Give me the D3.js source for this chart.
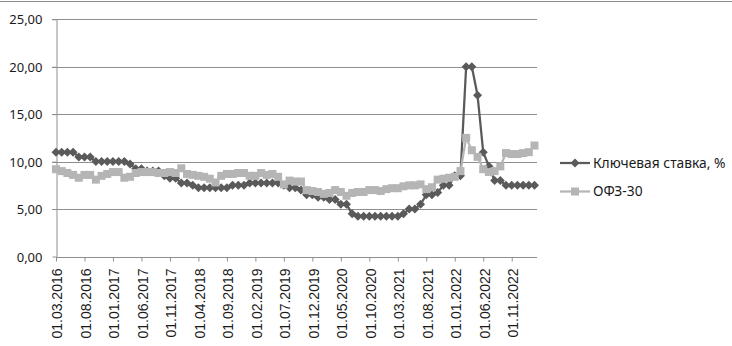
<!DOCTYPE html>
<html>
<head>
<meta charset="utf-8">
<script src="https://cdn.jsdelivr.net/npm/d3@7/dist/d3.min.js"></script>
<style>
  body { margin: 0; background: #fff; }
  .ylab { font-family: "Noto Sans", sans-serif; font-size: 13px; fill: #1a1a1a; }
  .xlab { font-family: "Liberation Sans", Arial, sans-serif; font-size: 14px; fill: #1a1a1a; }
  .leg { font-family: "Noto Sans", sans-serif; font-size: 13.8px; fill: #1a1a1a; }
</style>
</head>
<body>
<div id="chart"></div>
<script>
    // monthly points, 01.03.2016 .. 01.03.2023
    var startYear = 2016, startMonth = 3, monthCount = 85;
    var months = [];
    for (var i = 0; i < monthCount; i++) {
        var m = (startMonth - 1 + i) % 12 + 1;
        var y = startYear + Math.floor((startMonth - 1 + i) / 12);
        months.push("01." + (m < 10 ? "0" + m : m) + "." + y);
    }

    var keyRate = [
        11, 11, 11, 11, 10.5, 10.5, 10.5, 10, 10, 10,
        10, 10, 10, 9.75, 9.25, 9.25, 9, 9, 9, 8.5,
        8.25, 8.25, 7.75, 7.75, 7.5, 7.25, 7.25, 7.25, 7.25, 7.25,
        7.25, 7.5, 7.5, 7.5, 7.75, 7.75, 7.75, 7.75, 7.75, 7.75,
        7.5, 7.25, 7.25, 7, 6.5, 6.5, 6.25, 6.25, 6, 6,
        5.5, 5.5, 4.5, 4.25, 4.25, 4.25, 4.25, 4.25, 4.25, 4.25,
        4.25, 4.5, 5, 5, 5.5, 6.5, 6.5, 6.75, 7.5, 7.5,
        8.5, 8.5, 20, 20, 17, 11, 9.5, 8, 8, 7.5,
        7.5, 7.5, 7.5, 7.5, 7.5
    ];

    var ofz30 = [
        9.2, 9.0, 8.8, 8.6, 8.3, 8.6, 8.6, 8.1, 8.5, 8.7,
        8.9, 8.9, 8.3, 8.4, 8.8, 8.9, 8.9, 8.9, 8.8, 8.8,
        8.9, 8.8, 9.3, 8.7, 8.6, 8.5, 8.4, 8.2, 7.8, 8.5,
        8.7, 8.7, 8.8, 8.8, 8.5, 8.5, 8.8, 8.6, 8.7, 8.4,
        7.6, 8.0, 7.9, 7.9, 7.0, 6.9, 6.8, 6.6, 6.7, 7.0,
        6.8, 6.4, 6.7, 6.8, 6.8, 7.0, 7.0, 6.9, 7.1, 7.2,
        7.2, 7.4, 7.5, 7.5, 7.6, 7.1, 7.3, 8.1, 8.2, 8.3,
        8.4, 9.0, 12.5, 11.2, 10.5, 9.2, 8.9, 9.0, 9.5, 10.9,
        10.8, 10.8, 10.9, 11.0, 11.7
    ];

    var yTicks = [0, 5, 10, 15, 20, 25];
    var seriesNames = ["Ключевая ставка, %", "ОФЗ-30"];

    var W = 732, H = 346;
    var margin = { top: 19, right: 196, bottom: 90, left: 56 };

    var svg = d3.select("#chart").append("svg")
        .attr("width", W)
        .attr("height", H);

    // chart frame top edge
    svg.append("line")
        .attr("x1", 0).attr("x2", W)
        .attr("y1", 1.5).attr("y2", 1.5)
        .attr("stroke", "#8c8c8c").attr("stroke-width", 1);

    var x = d3.scalePoint()
        .domain(months)
        .range([margin.left, W - margin.right - 1.5]);

    var y = d3.scaleLinear()
        .domain([0, 25])
        .range([256.5, margin.top + 0.3]);

    // gridlines
    svg.append("g").selectAll("line")
        .data(yTicks.filter(function(d) { return d > 0; }))
        .enter().append("line")
        .attr("x1", margin.left - 4)
        .attr("x2", W - margin.right + 1)
        .attr("y1", function(d) { return Math.round(y(d)) + 0.5; })
        .attr("y2", function(d) { return Math.round(y(d)) + 0.5; })
        .attr("stroke", "#8f8f8f")
        .attr("stroke-width", 1);

    // y axis
    var yAxis = svg.append("g")
        .attr("transform", "translate(" + (margin.left + 0.5) + ",0)")
        .call(d3.axisLeft(y).tickValues(yTicks).tickSize(4).tickSizeOuter(0)
            .tickFormat(function(d) { return d3.format(".2f")(d).replace(".", ","); }));
    yAxis.select(".domain").attr("stroke", "#8f8f8f");
    yAxis.selectAll(".tick line").attr("stroke", "#8f8f8f");
    yAxis.selectAll(".tick text")
        .attr("class", "ylab")
        .attr("x", -14)
        .attr("dy", "0.35em");

    // x axis
    var xAxis = svg.append("g")
        .attr("transform", "translate(0," + (Math.round(y(0)) + 0.5) + ")")
        .call(d3.axisBottom(x)
            .tickValues(months.filter(function(d, i) { return i % 5 === 0; }))
            .tickSize(4).tickSizeOuter(0));
    xAxis.select(".domain")
        .attr("stroke", "#8f8f8f")
        .attr("d", "M" + margin.left + ",0H" + (W - margin.right + 1));
    xAxis.selectAll(".tick line").attr("stroke", "#8f8f8f");
    xAxis.selectAll(".tick text")
        .attr("class", "xlab")
        .attr("transform", "rotate(-90)")
        .attr("text-anchor", "end")
        .attr("x", -11)
        .attr("y", 1)
        .attr("dy", "0.35em")
        .attr("dx", 0);

    function diamond(s) {
        return "M0," + (-s) + "L" + s + ",0L0," + s + "L" + (-s) + ",0Z";
    }

    var line = d3.line()
        .x(function(d, i) { return x(months[i]); })
        .y(function(d) { return y(d); });

    var dark = "#5a5a5a", light = "#b5b5b5";

    // key rate series
    svg.append("path")
        .datum(keyRate)
        .attr("fill", "none")
        .attr("stroke", dark)
        .attr("stroke-width", 2.25)
        .attr("d", line);
    svg.append("g").selectAll("path")
        .data(keyRate)
        .enter().append("path")
        .attr("transform", function(d, i) { return "translate(" + x(months[i]) + "," + y(d) + ")"; })
        .attr("d", diamond(4.5))
        .attr("fill", dark);

    // OFZ-30 series
    svg.append("path")
        .datum(ofz30)
        .attr("fill", "none")
        .attr("stroke", light)
        .attr("stroke-width", 2.25)
        .attr("d", line);
    svg.append("g").selectAll("rect")
        .data(ofz30)
        .enter().append("rect")
        .attr("x", function(d, i) { return x(months[i]) - 4; })
        .attr("y", function(d) { return y(d) - 4; })
        .attr("width", 8)
        .attr("height", 8)
        .attr("fill", light);

    // legend
    var leg = svg.append("g");
    var legY = [163, 191.5];
    leg.append("line").attr("x1", 560).attr("x2", 590).attr("y1", legY[0]).attr("y2", legY[0])
        .attr("stroke", dark).attr("stroke-width", 2.25);
    leg.append("path").attr("transform", "translate(575," + legY[0] + ")").attr("d", diamond(4.5)).attr("fill", dark);
    leg.append("line").attr("x1", 560).attr("x2", 590).attr("y1", legY[1]).attr("y2", legY[1])
        .attr("stroke", light).attr("stroke-width", 2.25);
    leg.append("rect").attr("x", 571).attr("y", legY[1] - 4).attr("width", 8).attr("height", 8).attr("fill", light);
    leg.selectAll("text")
        .data(seriesNames)
        .enter().append("text")
        .attr("class", "leg")
        .attr("x", 593)
        .attr("y", function(d, i) { return legY[i]; })
        .attr("dy", "0.35em")
        .text(function(d) { return d; });
</script>
</body>
</html>
